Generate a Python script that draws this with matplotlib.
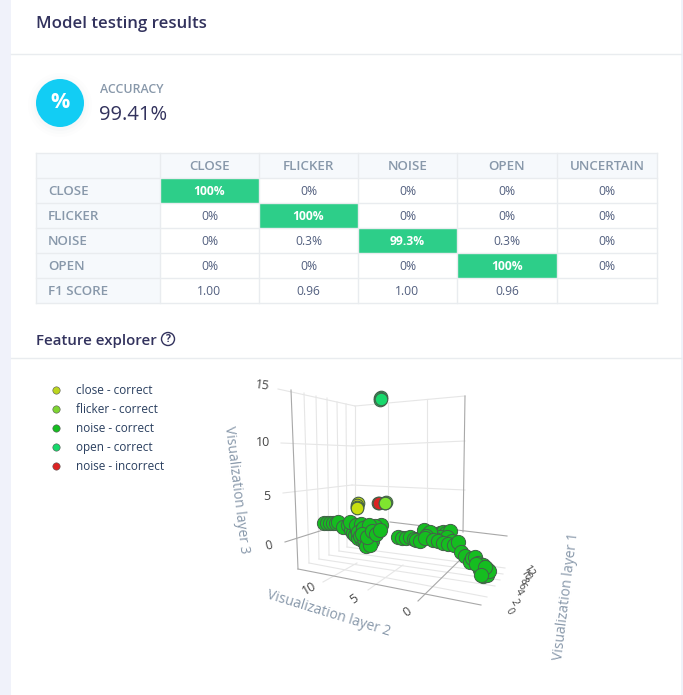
import matplotlib.pyplot as plt
from matplotlib.patches import Circle, Rectangle

plt.rcParams['font.family'] = ['Open Sans', 'DejaVu Sans']

# confusion matrix
columns = ['CLOSE', 'FLICKER', 'NOISE', 'OPEN', 'UNCERTAIN']
rows = ['CLOSE', 'FLICKER', 'NOISE', 'OPEN', 'F1 SCORE']
cells = [['100%', '0%', '0%', '0%', '0%'],
         ['0%', '100%', '0%', '0%', '0%'],
         ['0%', '0.3%', '99.3%', '0.3%', '0%'],
         ['0%', '0%', '0%', '100%', '0%'],
         ['1.00', '0.96', '1.00', '0.96', '']]
highlight = [(0, 0), (1, 1), (2, 2), (3, 3)]
col_edges = [36, 160, 259, 358, 457, 557, 657]
row_edges = [153, 178, 203, 228, 253, 278, 303]

legend_names = ['close - correct', 'flicker - correct', 'noise - correct',
                'open - correct', 'noise - incorrect']
legend_colors = ['#bcd61e', '#7ed531', '#15bd20', '#18d96c', '#dc2323']

open_x = [381, 380, 380, 381]
open_y = [397, 398, 400, 399]
red_x = [378, 379]
red_y = [503, 503]
close_x = [358, 357, 357, 357]
close_y = [503, 505, 507, 508]
flicker_x = [386, 385, 385]
flicker_y = [502, 503, 503]
noise_x = [324, 327, 330, 333, 336, 338, 343, 348, 351, 353, 355, 357, 358, 360, 362, 363,
           365, 366, 368, 370, 372, 374, 377, 379, 381, 350, 356, 361, 366, 371, 375,
           358, 363, 369, 374, 360, 364, 368, 372, 366, 370, 362, 367, 372, 376, 380,
           398, 402, 406, 410, 414, 418, 422, 424, 428, 432, 436, 440,
           443, 446, 450, 445, 440, 435, 430, 426, 447, 452, 416, 420, 425, 433, 438, 443,
           448, 454, 458, 461, 465, 470, 472, 475,
           478, 480, 482, 483, 485, 486, 488, 487, 484, 480, 476, 483, 487, 489, 485, 481]
noise_y = [523, 523, 523, 523, 523, 522, 527, 525, 530, 533, 535, 530, 538, 528, 540, 534,
           543, 538, 532, 541, 535, 530, 530, 527, 525, 522, 525, 524, 527, 528, 526,
           532, 528, 525, 535, 536, 539, 544, 541, 546, 545, 534, 537, 531, 534, 530,
           537, 538, 538, 537, 539, 539, 537, 530, 534, 535, 535, 533,
           532, 533, 531, 540, 537, 539, 532, 536, 537, 541, 540, 541, 538, 540, 541, 543,
           544, 545, 542, 552, 556, 562, 558, 557,
           563, 566, 570, 565, 572, 568, 570, 574, 573, 570, 564, 576, 575, 571, 567, 575]

# grid of the 3d scene: ((x0, x1), (y0, y1))
grid_lines = [((278, 355), (389, 406)), ((355, 465), (406, 396)),
              ((281, 353), (443, 446)), ((353, 465), (446, 441)),
              ((283, 352), (493, 485)), ((352, 465), (485, 490)),
              ((304, 309), (393, 563)), ((316, 319), (396, 559)),
              ((327, 329), (398, 555)), ((337, 339), (402, 551)),
              ((346, 347), (404, 547)), ((355, 355), (406, 520)),
              ((388, 388), (403, 525)), ((427, 427), (399, 530)),
              ((347, 505), (547, 568)), ((339, 503), (551, 574)),
              ((329, 500), (555, 580)), ((319, 495), (559, 586)),
              ((309, 487), (563, 597)),
              ((323, 357), (582, 563)), ((368, 403), (590, 565))]
axis_lines = [((291, 298), (390, 569)), ((465, 463), (396, 532)),
              ((285, 323), (542, 530)), ((390, 507), (522, 536)),
              ((298, 481), (569, 605)), ((418, 463), (601, 557))]

fig = plt.figure(figsize=(6.83, 6.95), dpi=100)
ax = fig.add_axes([0, 0, 1, 1])
ax.set_xlim(0, 683)
ax.set_ylim(695, 0)
ax.axis('off')

# page background
ax.add_patch(Rectangle((0, 0), 11, 695, color='#f0f2fa', lw=0))
ax.add_patch(Rectangle((681, 0), 2, 695, color='#f0f2fa', lw=0))
ax.plot([11, 681], [54, 54], color='#e9ecef', lw=1)
ax.plot([11, 681], [358, 358], color='#e9ecef', lw=1)

dark = '#32325d'
muted = '#8898aa'
ax.text(36, 23.5, 'Model testing results', fontsize=12.2, color=dark, weight='semibold',
        va='center')

# accuracy badge
for r, a in [(32, 0.015), (29, 0.02), (26, 0.03)]:
    ax.add_patch(Circle((60, 105), r, color='#8898aa', alpha=a, lw=0))
ax.add_patch(Circle((60, 103), 24, color='#12cdf4', lw=0))
ax.text(60, 103, '%', fontsize=15.5, color='white', weight='bold', ha='center', va='center')
ax.text(99.5, 89.5, 'ACCURACY', fontsize=8.9, color=muted, weight='semibold', va='center')
ax.text(99.5, 115.5, '99.41%', fontsize=14.5, color=dark, va='center')

# table
grid_col = '#e9ecef'
ax.add_patch(Rectangle((36, 153), 621, 25, color='#f6f9fc', lw=0))
ax.add_patch(Rectangle((36, 153), 124, 150, color='#f6f9fc', lw=0))
for i, j in highlight:
    ax.add_patch(Rectangle((col_edges[j + 1], row_edges[i + 1]),
                           col_edges[j + 2] - col_edges[j + 1],
                           row_edges[i + 2] - row_edges[i + 1], color='#2dce89', lw=0))
for x in col_edges:
    ax.plot([x - 0.5, x - 0.5], [153, 303], color=grid_col, lw=1)
for y in row_edges:
    ax.plot([36, 657], [y, y], color=grid_col, lw=1)
for j, name in enumerate(columns):
    ax.text((col_edges[j + 1] + col_edges[j + 2]) / 2, 166.5, name, fontsize=9.6, color=muted,
            weight='semibold', ha='center', va='center')
for i, name in enumerate(rows):
    yc = (row_edges[i + 1] + row_edges[i + 2]) / 2 + 1
    ax.text(48, yc, name, fontsize=9.6, color=muted, weight='semibold', va='center')
    for j, val in enumerate(cells[i]):
        xc = (col_edges[j + 1] + col_edges[j + 2]) / 2
        if (i, j) in highlight:
            ax.text(xc, yc, val, fontsize=8.7, color='white', weight='bold', ha='center', va='center')
        else:
            ax.text(xc, yc, val, fontsize=8.7, color='#525f7f', ha='center', va='center')

# feature explorer header
ax.text(36, 340.5, 'Feature explorer', fontsize=10.8, color=dark, weight='semibold', va='center')
ax.add_patch(Circle((168, 339), 6.5, fill=False, ec=dark, lw=1))
ax.text(168, 339, '?', fontsize=7.5, color=dark, weight='bold', ha='center', va='center')

# legend
for k, (name, col) in enumerate(zip(legend_names, legend_colors)):
    y = 390 + 19 * k
    ax.scatter([56], [y], s=28, color=col, edgecolors='#555555', linewidths=0.4)
    ax.text(76, y + 0.5, name, fontsize=8.5, color='#2a3f5f', va='center')

# 3d scene
for xs, ys in grid_lines:
    ax.plot(xs, ys, color='#e6e6e6', lw=0.8, zorder=1)
for xs, ys in axis_lines:
    ax.plot(xs, ys, color='#a8a8a8', lw=0.8, zorder=1)

edge = '#44604a'
ax.scatter(open_x, open_y, s=82, color=legend_colors[3], edgecolors=edge, linewidths=0.8, zorder=3)
ax.scatter(red_x, red_y, s=82, color=legend_colors[4], edgecolors=edge, linewidths=0.8, zorder=3)
ax.scatter(close_x, close_y, s=82, color='#c8e010', edgecolors=edge, linewidths=0.8, zorder=3)
ax.scatter(flicker_x, flicker_y, s=82, color='#7fe52f', edgecolors=edge, linewidths=0.8, zorder=3)
ax.scatter(noise_x, noise_y, s=105, color=legend_colors[2], edgecolors=edge, linewidths=0.7, zorder=4)

# tick labels
tick_col = '#444444'
for txt, x, y, rot in [('15', 262, 386, -8), ('10', 263, 442, 0), ('5', 267, 496, 0),
                       ('0', 269, 546, 15), ('10', 309, 588, 30), ('5', 354, 599, 35),
                       ('0', 407, 612, 35)]:
    ax.text(x, y, txt, fontsize=9, color=tick_col, rotation=rot, ha='center', va='center',
            rotation_mode='anchor')
for txt, x, y in [('0', 509, 611), ('2', 514, 602), ('4', 518, 592), ('6', 521, 586),
                  ('8', 523, 581), ('10', 525, 575), ('12', 528, 571)]:
    ax.text(x, y, txt, fontsize=7.5, color=tick_col, rotation=-60, ha='center', va='center',
            rotation_mode='anchor')

# axis titles
for txt, x, y, rot in [('Visualization layer 3', 236, 490, -83),
                       ('Visualization layer 2', 329, 614, -17),
                       ('Visualization layer 1', 566, 596, 83)]:
    ax.text(x, y, txt, fontsize=10, color=muted, rotation=rot, ha='center', va='center',
            rotation_mode='anchor')

fig.savefig('out.png', dpi=100)
